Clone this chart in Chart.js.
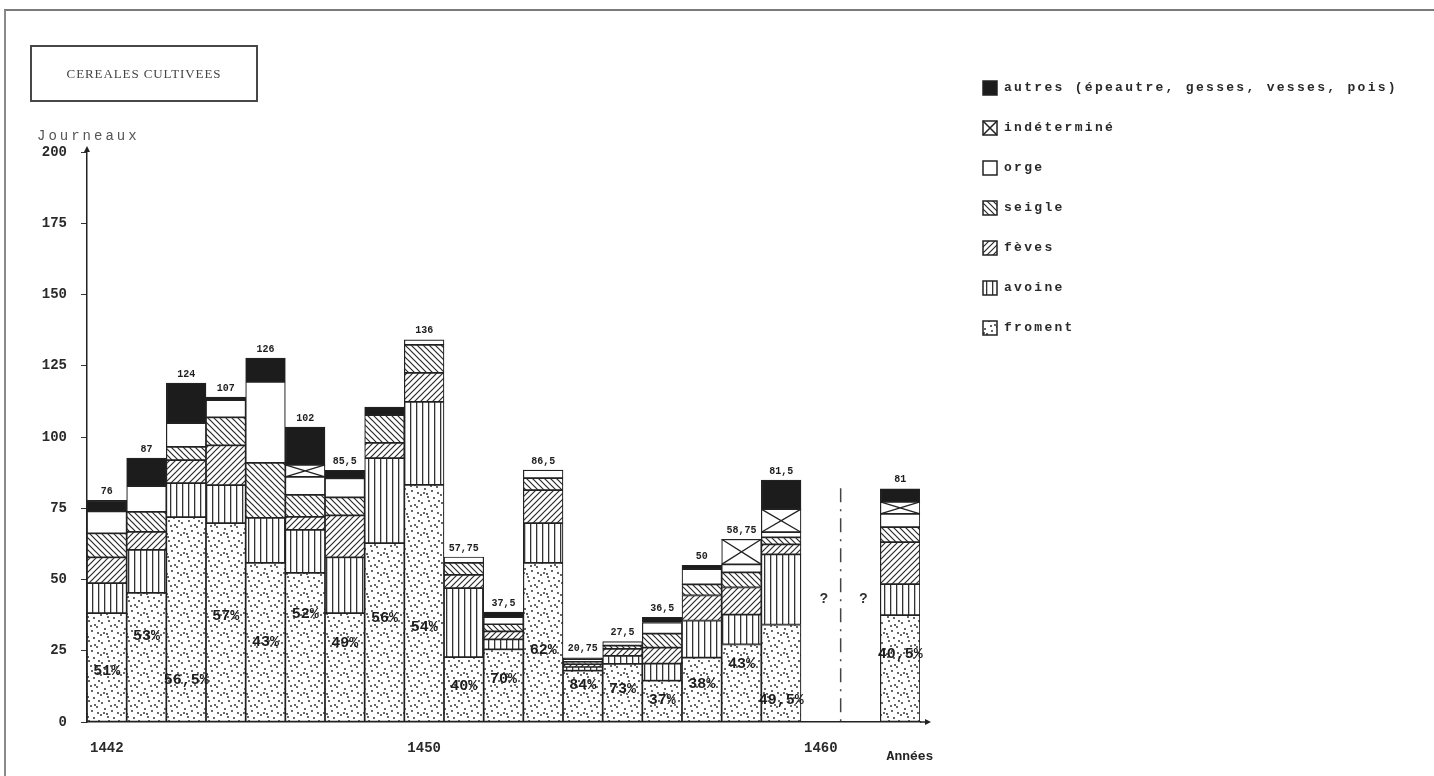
<!DOCTYPE html>
<html>
<head>
<meta charset="utf-8">
<title>Céréales cultivées</title>
<script src="https://cdn.jsdelivr.net/npm/chart.js@4.4.1/dist/chart.umd.min.js"></script>
<style>
  html, body { margin: 0; padding: 0; background: #fff; }
  #wrap { position: relative; width: 1434px; height: 776px; overflow: hidden; }
  #frame { position: absolute; left: 4px; top: 9px; right: -10px; bottom: -10px;
           border-top: 2px solid #7a7a7a; border-left: 2px solid #8a8a8a; }
  canvas { position: absolute; left: 0; top: 0; }
  #titlebox { position: absolute; left: 30px; top: 45px; width: 224px; height: 53px;
              border: 2px solid #474747; font: 13px "Liberation Serif", serif; letter-spacing: 0.9px;
              color: #444; display: flex; align-items: center; justify-content: center; }
  #ytitle { position: absolute; left: 37px; top: 128px; font: 14px "Liberation Mono", monospace;
            letter-spacing: 3px; color: #555; }
</style>
</head>
<body>
<div id="wrap">
  <div id="frame"></div>
  <canvas id="chart" width="1434" height="776"></canvas>
  <div id="titlebox">CEREALES CULTIVEES</div>
  <div id="ytitle">Journeaux</div>
</div>
<script>
// years on the x axis (1460 and 1461 unknown)
const years = ['1442','1443','1444','1445','1446','1447','1448','1449','1450','1451',
               '1452','1453','1454','1455','1456','1457','1458','1459','1460','1461','1462'];
const yearTicks = ['1442', '1450', '1460'];

// journaux per crop
const froment     = [38.2, 45.3, 71.9, 69.8, 55.8, 52.3, 38.2, 62.8, 83.2, 22.8, 25.5, 55.8, 18.0, 20.4, 14.5, 22.6, 27.2, 34.2, null, null, 37.5];
const avoine      = [10.5, 15.1, 11.9, 13.3, 15.8, 15.1, 19.6, 29.8, 29.1, 24.2, 3.5, 14.0, 1.3, 2.8, 6.0, 13.0, 10.5, 24.6, null, null, 10.9];
const feves       = [9.1, 6.3, 8.1, 14.0, null, 4.6, 14.7, 5.3, 10.2, 4.6, 2.8, 11.6, 1.0, 2.5, 5.6, 8.8, 9.5, 3.5, null, null, 14.7];
const seigle      = [8.4, 7.0, 4.6, 9.8, 19.3, 7.7, 6.3, 9.8, 9.8, 4.2, 2.5, 4.2, 0.8, 1.1, 4.9, 3.9, 5.3, 2.5, null, null, 5.3];
const orge        = [7.7, 9.1, 8.4, 6.0, 28.4, 6.3, 6.7, null, 1.8, 2.1, 2.5, 2.8, 1.0, 1.4, 3.9, 5.3, 2.8, 1.8, null, null, 4.6];
const indetermine = [null, null, null, null, null, 4.2, null, null, null, null, null, null, null, null, null, null, 8.8, 8.1, null, null, 4.2];
const autres      = [3.9, 9.8, 14.0, 1.1, 8.4, 13.3, 2.8, 2.8, null, null, 1.8, null, 0.4, null, 1.8, 1.4, null, 10.2, null, null, 4.6];

// written totals and wheat share
const totalLabels = ['76','87','124','107','126','102','85,5','','136','57,75','37,5','86,5','20,75','27,5','36,5','50','58,75','81,5',null,null,'81'];
const fromentPct  = ['51%','53%','56,5%','57%','43%','52%','49%','56%','54%','40%','70%','62%','84%','73%','37%','38%','43%','49,5%',null,null,'40,5%'];

const seriesNames = ['froment', 'avoine', 'fèves', 'seigle', 'orge', 'indéterminé', 'autres (épeautre, gesses, vesses, pois)'];
const seriesData  = [froment, avoine, feves, seigle, orge, indetermine, autres];

// where the percentage sits inside the wheat block (0 = bottom, 1 = top)
const pctPos = [0.46,0.66,0.2,0.53,0.5,0.72,0.72,0.58,0.4,0.54,0.58,0.45,0.72,0.56,0.51,0.58,0.75,0.22,0,0,0.63];

function makePattern(kind) {
  const c = document.createElement('canvas');
  const s = kind === 'dots' ? 20 : 6;
  c.width = s; c.height = s;
  const g = c.getContext('2d');
  g.fillStyle = '#fff';
  g.fillRect(0, 0, s, s);
  g.strokeStyle = '#2a2a2a';
  g.fillStyle = '#333';
  g.lineWidth = 1.2;
  if (kind === 'dots') {
    const pts = [[2,3],[9,1],[15,5],[5,9],[12,11],[18,13],[1,15],[8,17],[14,18],[17,7],[4,13],[11,6],[19,1],[7,14]];
    pts.forEach(p => { g.beginPath(); g.arc(p[0], p[1], 1, 0, Math.PI * 2); g.fill(); });
  } else if (kind === 'vert') {
    g.fillRect(2, 0, 1.3, s);
  } else if (kind === 'slash') {
    g.beginPath();
    g.moveTo(0, s); g.lineTo(s, 0);
    g.moveTo(-1, 1); g.lineTo(1, -1);
    g.moveTo(s - 1, s + 1); g.lineTo(s + 1, s - 1);
    g.stroke();
  } else if (kind === 'back') {
    g.beginPath();
    g.moveTo(0, 0); g.lineTo(s, s);
    g.moveTo(s - 1, -1); g.lineTo(s + 1, 1);
    g.moveTo(-1, s - 1); g.lineTo(1, s + 1);
    g.stroke();
  }
  return g.createPattern(c, 'repeat');
}

const ctx0 = document.getElementById('chart').getContext('2d');
const fills = [makePattern('dots'), makePattern('vert'), makePattern('slash'), makePattern('back'), '#ffffff', '#ffffff', '#1c1c1c'];

const annotate = {
  id: 'annotate',
  afterDatasetsDraw(chart) {
    const ctx = chart.ctx;
    const xs = chart.scales.x, ys = chart.scales.y;
    const area = chart.chartArea;
    ctx.save();

    // crosses on "indéterminé" blocks
    ctx.strokeStyle = '#222';
    ctx.lineWidth = 1.3;
    chart.getDatasetMeta(5).data.forEach((el, i) => {
      if (indetermine[i] == null) return;
      const p = el.getProps(['x', 'y', 'base', 'width'], true);
      const l = p.x - p.width / 2, r = p.x + p.width / 2;
      ctx.beginPath();
      ctx.moveTo(l, p.y); ctx.lineTo(r, p.base);
      ctx.moveTo(r, p.y); ctx.lineTo(l, p.base);
      ctx.stroke();
    });

    // percentages inside wheat
    ctx.fillStyle = '#1e1e1e';
    ctx.font = 'bold 15px "Liberation Mono", monospace';
    ctx.textAlign = 'center';
    ctx.textBaseline = 'middle';
    chart.getDatasetMeta(0).data.forEach((el, i) => {
      if (!fromentPct[i]) return;
      const p = el.getProps(['x', 'y', 'base'], true);
      ctx.fillText(fromentPct[i], p.x, p.base - pctPos[i] * (p.base - p.y));
    });

    // totals above bars
    ctx.font = 'bold 10px "Liberation Mono", monospace';
    ctx.textBaseline = 'bottom';
    years.forEach((yr, i) => {
      if (!totalLabels[i]) return;
      const sum = seriesData.reduce((a, s) => a + (s[i] || 0), 0);
      ctx.fillText(totalLabels[i], xs.getPixelForValue(i), ys.getPixelForValue(sum) - 4);
    });

    // unknown years
    ctx.font = 'bold 14px "Liberation Mono", monospace';
    ctx.textBaseline = 'middle';
    ctx.fillStyle = '#333';
    years.forEach((yr, i) => {
      if (froment[i] != null) return;
      ctx.fillText('?', xs.getPixelForValue(i) + 3, ys.getPixelForValue(43));
    });

    // dash-dot separator before the last bar
    const xm = (xs.getPixelForValue(18) + xs.getPixelForValue(19)) / 2;
    ctx.strokeStyle = '#444';
    ctx.lineWidth = 1.5;
    ctx.setLineDash([14, 7, 2, 7]);
    ctx.beginPath();
    ctx.moveTo(xm, ys.getPixelForValue(82));
    ctx.lineTo(xm, area.bottom);
    ctx.stroke();
    ctx.setLineDash([]);

    // axis arrows
    ctx.strokeStyle = '#222';
    ctx.fillStyle = '#222';
    ctx.lineWidth = 1.5;
    ctx.beginPath();
    ctx.moveTo(area.right, area.bottom); ctx.lineTo(area.right + 7, area.bottom);
    ctx.stroke();
    ctx.beginPath();
    ctx.moveTo(area.right + 11, area.bottom);
    ctx.lineTo(area.right + 5, area.bottom - 3);
    ctx.lineTo(area.right + 5, area.bottom + 3);
    ctx.closePath(); ctx.fill();
    ctx.beginPath();
    ctx.moveTo(area.left, area.top - 6);
    ctx.lineTo(area.left - 3, area.top);
    ctx.lineTo(area.left + 3, area.top);
    ctx.closePath(); ctx.fill();

    ctx.font = 'bold 13px "Liberation Mono", monospace';
    ctx.textAlign = 'center';
    ctx.fillText('Années', area.right - 10, area.bottom + 35);
    ctx.restore();
  },
  afterDraw(chart) {
    // legend, top entry = top of the stack
    const ctx = chart.ctx;
    const left = chart.chartArea.right + 63;
    ctx.save();
    ctx.font = 'bold 13px "Liberation Mono", monospace';
    ctx.letterSpacing = '2.3px';
    ctx.textBaseline = 'middle';
    ctx.textAlign = 'left';
    for (let k = 0; k < seriesNames.length; k++) {
      const d = seriesNames.length - 1 - k;
      const yc = 88 + k * 40;
      ctx.fillStyle = fills[d];
      ctx.fillRect(left, yc - 7, 14, 14);
      ctx.strokeStyle = '#222';
      ctx.lineWidth = 1.5;
      ctx.strokeRect(left, yc - 7, 14, 14);
      if (d === 5) {
        ctx.beginPath();
        ctx.moveTo(left, yc - 7); ctx.lineTo(left + 14, yc + 7);
        ctx.moveTo(left + 14, yc - 7); ctx.lineTo(left, yc + 7);
        ctx.stroke();
      }
      ctx.fillStyle = '#2a2a2a';
      ctx.fillText(seriesNames[d], left + 21, yc);
    }
    ctx.restore();
  }
};

new Chart(ctx0, {
  type: 'bar',
  data: {
    labels: years,
    datasets: seriesNames.map((name, d) => ({
      label: name,
      data: seriesData[d],
      backgroundColor: fills[d],
      borderColor: '#222',
      borderWidth: 1.2,
      borderSkipped: false,
      barPercentage: 1,
      categoryPercentage: 1
    }))
  },
  options: {
    responsive: false,
    animation: false,
    devicePixelRatio: 1,
    layout: { padding: { top: 152, right: 514, left: 0, bottom: 0 } },
    plugins: { legend: { display: false }, tooltip: { enabled: false } },
    scales: {
      x: {
        stacked: true,
        afterFit: s => { s.height = 54; },
        grid: { display: false, drawTicks: false },
        border: { color: '#222', width: 1.5 },
        ticks: {
          autoSkip: false,
          maxRotation: 0,
          padding: 18,
          color: '#2a2a2a',
          font: { family: 'Liberation Mono', size: 14, weight: 'bold' },
          callback: function (v) {
            const yr = this.getLabelForValue(v);
            return yearTicks.includes(yr) ? yr : '';
          }
        }
      },
      y: {
        stacked: true,
        min: 0,
        max: 200,
        afterFit: s => { s.width = 87; },
        grid: { drawOnChartArea: false, drawTicks: true, tickLength: 6, color: '#333' },
        border: { color: '#222', width: 1.5 },
        ticks: {
          stepSize: 25,
          padding: 14,
          color: '#2a2a2a',
          font: { family: 'Liberation Mono', size: 14, weight: 'bold' }
        }
      }
    }
  },
  plugins: [annotate]
});
</script>
</body>
</html>
